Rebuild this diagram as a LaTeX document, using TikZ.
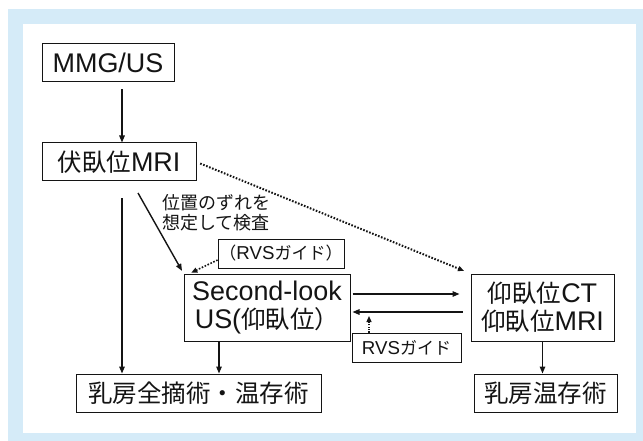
\documentclass[tikz,border=0pt]{standalone}
\usepackage{fontspec}
\setmainfont{Liberation Sans}[Scale=1.1]
\newfontfamily\jp{Noto Sans CJK JP}
\usetikzlibrary{arrows.meta}
\definecolor{frameblue}{RGB}{213,235,248}
\definecolor{ink}{RGB}{20,20,20}
\begin{document}
\begin{tikzpicture}[x=1pt,y=-1pt,
  box/.style={draw=ink, line width=1pt, inner sep=0pt, align=center, text=ink,
    font=\fontsize{24.5pt}{28pt}\selectfont},
  smallbox/.style={draw=ink, line width=0.8pt, inner sep=0pt, align=center, text=ink,
    font=\fontsize{17pt}{20pt}\selectfont},
  arr/.style={draw=ink, line width=1.4pt, -{Triangle[length=7pt,width=5.5pt]}},
  dotarr/.style={draw=ink, line width=2pt, dash pattern=on 1.6pt off 1.6pt,
    -{Triangle[length=6pt,width=5pt]}},
  lbl/.style={align=left, text=ink, inner sep=0pt, font=\jp\fontsize{18pt}{20pt}\selectfont}
]
\useasboundingbox (0,0) rectangle (643,441);
\fill[frameblue] (8,9) rectangle (643,441);
\fill[white] (23,24) rectangle (636,433);

\node[box, minimum width=132pt, minimum height=38pt] (mmg) at (108,63) {MMG/US};
\node[box, minimum width=154pt, minimum height=38pt] (prone) at (119,162) {{\jp 伏臥位}MRI};
\node[box, minimum width=166pt, minimum height=67pt] (sl) at (267,307.5) {Second-look\\US({\jp 仰臥位）}};
\node[smallbox, minimum width=126pt, minimum height=29pt] (rvs1) at (281,253.5) {{\jp （}RVS{\jp ガイド）}};
\node[box, minimum width=143pt, minimum height=67pt] (ct) at (542.5,307.5) {{\jp 仰臥位}CT\\{\jp 仰臥位}MRI};
\node[smallbox, minimum width=109pt, minimum height=29pt] (rvs2) at (406.5,347.5) {RVS{\jp ガイド}};
\node[box, minimum width=143pt, minimum height=38pt] (bcs) at (545.5,393) {{\jp 乳房温存術}};
\node[box, minimum width=245pt, minimum height=38pt] (total) at (198.5,393) {{\jp 乳房全摘術・温存術}};
\node[lbl] (note) at (216.5,212.5) {位置のずれを\\想定して検査};

\coordinate (xa) at (122,0);
\coordinate (xb) at (219,0);
\coordinate (d1) at (138,193);
\coordinate (up) at (369,316);

\draw[arr, shorten <=7pt] (mmg.south -| xa) -- (prone.north -| xa);
\draw[arr, shorten <=17pt] (prone.south -| xa) -- (total.north -| xa);
\draw[arr] (sl.south -| xb) -- (total.north -| xb);
\draw[arr, shorten >=3pt] (d1) -- (sl.north west);
\draw[dotarr, shorten <=4pt, shorten >=7pt] (prone.east) -- (ct.north west);
\draw[dotarr, line width=1.6pt, shorten >=2pt] ([yshift=-6.5pt]rvs1.west) -- ([xshift=6pt]sl.north west);
\draw[arr, shorten <=2pt, shorten >=11pt] ([yshift=13.5pt]sl.east) -- ([yshift=13.5pt]ct.west);
\draw[arr, shorten <=8pt, shorten >=2pt] ([yshift=-4.5pt]ct.west) -- ([yshift=-4.5pt]sl.east);
\draw[dotarr, line width=1.2pt, dash pattern=on 1.2pt off 1.2pt] ([xshift=-37.5pt]rvs2.north) -- (up);
\draw[arr] (ct.south) -- (ct.south |- bcs.north);
\end{tikzpicture}
\end{document}
